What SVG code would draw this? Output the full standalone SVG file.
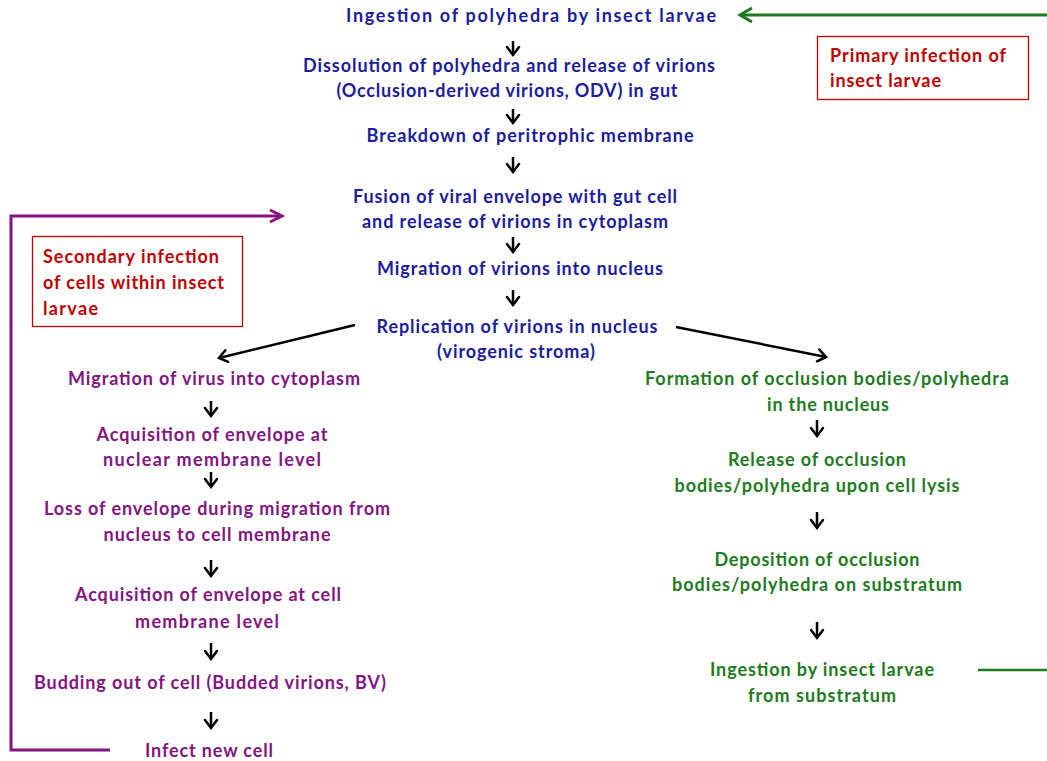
<svg xmlns="http://www.w3.org/2000/svg" width="1047" height="761" viewBox="0 0 1047 761">
  <style>
    text { font-family: Lato, "Open Sans", "Liberation Sans", sans-serif; font-weight: bold; font-size: 18px; text-anchor: middle; }
    .blue { fill: #1c1c9c; }
    .purple { fill: #82157f; }
    .green { fill: #1e7a1e; }
    .red { fill: #c00000; text-anchor: start; }
    .box { fill: #ffffff; stroke: #c00000; stroke-width: 1.3; }
    .step { stroke: #000000; stroke-width: 2.5; fill: none; }
  </style>
  <defs>
    <marker id="vhead" markerUnits="userSpaceOnUse" markerWidth="20" markerHeight="20" refX="0" refY="0" orient="auto" overflow="visible">
      <path d="M-8,-6 L0,0 L-8,6" fill="none" stroke="#000000" stroke-width="2.5" stroke-linecap="round" stroke-linejoin="miter"/>
    </marker>
    <marker id="vhead-green" markerUnits="userSpaceOnUse" markerWidth="20" markerHeight="20" refX="0" refY="0" orient="auto" overflow="visible">
      <path d="M-12,-7 L0,0 L-12,7" fill="none" stroke="#1e7a1e" stroke-width="3"/>
    </marker>
    <marker id="vhead-purple" markerUnits="userSpaceOnUse" markerWidth="20" markerHeight="20" refX="0" refY="0" orient="auto" overflow="visible">
      <path d="M-12,-6 L0,0 L-12,6" fill="none" stroke="#82157f" stroke-width="3"/>
    </marker>
  </defs>

  <!-- connectors -->
  <g id="connectors">
    <!-- main pathway -->
    <line class="step" x1="513" y1="41" x2="513" y2="55" marker-end="url(#vhead)"/>
    <line class="step" x1="513" y1="109" x2="513" y2="123" marker-end="url(#vhead)"/>
    <line class="step" x1="513" y1="157" x2="513" y2="172" marker-end="url(#vhead)"/>
    <line class="step" x1="513" y1="237" x2="513" y2="252" marker-end="url(#vhead)"/>
    <line class="step" x1="513" y1="290" x2="513" y2="305" marker-end="url(#vhead)"/>
    <!-- branches -->
    <line class="step" x1="355" y1="325" x2="219" y2="358" marker-end="url(#vhead)"/>
    <line class="step" x1="676" y1="327" x2="826" y2="357" marker-end="url(#vhead)"/>
    <!-- budded virion branch -->
    <line class="step" x1="211" y1="401" x2="211" y2="416" marker-end="url(#vhead)"/>
    <line class="step" x1="211" y1="472" x2="211" y2="487" marker-end="url(#vhead)"/>
    <line class="step" x1="211" y1="560" x2="211" y2="576" marker-end="url(#vhead)"/>
    <line class="step" x1="211" y1="643" x2="211" y2="659" marker-end="url(#vhead)"/>
    <line class="step" x1="211" y1="712" x2="211" y2="728" marker-end="url(#vhead)"/>
    <!-- occlusion body branch -->
    <line class="step" x1="817" y1="420" x2="817" y2="436" marker-end="url(#vhead)"/>
    <line class="step" x1="817" y1="512" x2="817" y2="528" marker-end="url(#vhead)"/>
    <line class="step" x1="817" y1="622" x2="817" y2="638" marker-end="url(#vhead)"/>
    <!-- primary infection loop -->
    <line x1="1047" y1="15" x2="740" y2="15" stroke="#1e7a1e" stroke-width="3" marker-end="url(#vhead-green)"/>
    <line x1="978" y1="670" x2="1047" y2="670" stroke="#1e7a1e" stroke-width="2.5"/>
    <!-- secondary infection loop -->
    <polyline points="110,750 11,750 11,216 282,216" fill="none" stroke="#82157f" stroke-width="3" marker-end="url(#vhead-purple)"/>
  </g>

  <!-- main pathway nodes -->
  <g id="ingestion"><text class="blue" x="531" y="22" textLength="370">Ingestion of polyhedra by insect larvae</text></g>
  <g id="dissolution">
    <text class="blue" x="509" y="72" textLength="412">Dissolution of polyhedra and release of virions</text>
    <text class="blue" x="507" y="97" textLength="341">(Occlusion-derived virions, ODV) in gut</text>
  </g>
  <g id="breakdown"><text class="blue" x="530" y="142" textLength="327">Breakdown of peritrophic membrane</text></g>
  <g id="fusion">
    <text class="blue" x="515" y="203" textLength="324">Fusion of viral envelope with gut cell</text>
    <text class="blue" x="515" y="228" textLength="306">and release of virions in cytoplasm</text>
  </g>
  <g id="migration-nucleus"><text class="blue" x="520" y="275" textLength="286">Migration of virions into nucleus</text></g>
  <g id="replication">
    <text class="blue" x="517" y="333" textLength="281">Replication of virions in nucleus</text>
    <text class="blue" x="516" y="358" textLength="158">(virogenic stroma)</text>
  </g>

  <!-- budded virion branch nodes -->
  <g id="migration-cytoplasm"><text class="purple" x="214" y="385" textLength="292">Migration of virus into cytoplasm</text></g>
  <g id="envelope-nuclear">
    <text class="purple" x="212" y="441" textLength="231">Acquisition of envelope at</text>
    <text class="purple" x="212" y="466" textLength="218">nuclear membrane level</text>
  </g>
  <g id="envelope-loss">
    <text class="purple" x="217" y="515" textLength="346">Loss of envelope during migration from</text>
    <text class="purple" x="217" y="541" textLength="227">nucleus to cell membrane</text>
  </g>
  <g id="envelope-cell">
    <text class="purple" x="208" y="601" textLength="266">Acquisition of envelope at cell</text>
    <text class="purple" x="207" y="628" textLength="144">membrane level</text>
  </g>
  <g id="budding"><text class="purple" x="210" y="689" textLength="352">Budding out of cell (Budded virions, BV)</text></g>
  <g id="infect"><text class="purple" x="209" y="757" textLength="128">Infect new cell</text></g>

  <!-- occlusion body branch nodes -->
  <g id="formation">
    <text class="green" x="827" y="385" textLength="364">Formation of occlusion bodies/polyhedra</text>
    <text class="green" x="828" y="411" textLength="122">in the nucleus</text>
  </g>
  <g id="release">
    <text class="green" x="817" y="466" textLength="178">Release of occlusion</text>
    <text class="green" x="817" y="492" textLength="285">bodies/polyhedra upon cell lysis</text>
  </g>
  <g id="deposition">
    <text class="green" x="817" y="566" textLength="205">Deposition of occlusion</text>
    <text class="green" x="817" y="591" textLength="290">bodies/polyhedra on substratum</text>
  </g>
  <g id="ingestion-substratum">
    <text class="green" x="822" y="676" textLength="224">Ingestion by insect larvae</text>
    <text class="green" x="822" y="702" textLength="148">from substratum</text>
  </g>

  <!-- legend boxes -->
  <g id="primary-infection">
    <rect class="box" x="817.5" y="36.5" width="211" height="63"/>
    <text class="red" x="830" y="62" textLength="176">Primary infection of</text>
    <text class="red" x="830" y="87" textLength="111">insect larvae</text>
  </g>
  <g id="secondary-infection">
    <rect class="box" x="32.5" y="236.5" width="210" height="90"/>
    <text class="red" x="43" y="263" textLength="176">Secondary infection</text>
    <text class="red" x="43" y="289" textLength="181">of cells within insect</text>
    <text class="red" x="43" y="315" textLength="55">larvae</text>
  </g>
</svg>
